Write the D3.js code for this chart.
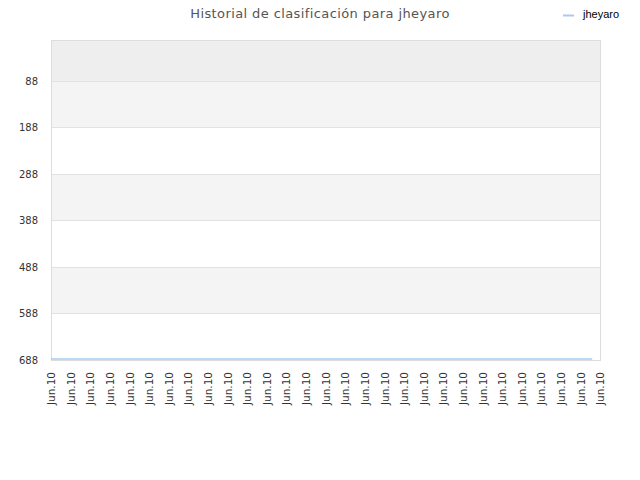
<!DOCTYPE html>
<html>
<head>
<meta charset="utf-8">
<script src="https://cdn.jsdelivr.net/npm/d3@7"></script>
<style>
  body { margin: 0; background: #fff; }
  .title { font-family: "DejaVu Sans", sans-serif; font-size: 13px; fill: #555; letter-spacing: 0.4px; }
  .ytick text { font-family: "DejaVu Sans", sans-serif; font-size: 10px; fill: #333; }
  .xtick text { font-family: "DejaVu Sans", sans-serif; font-size: 10.5px; fill: #333; }
  .legend { font-family: "Liberation Sans", sans-serif; font-size: 11px; fill: #000; }
</style>
</head>
<body>
<div id="chart"></div>
<script>
// tick labels along the x axis (one per slot)
const tickLabels = [
  "Jun.10", "Jun.10", "Jun.10", "Jun.10", "Jun.10", "Jun.10", "Jun.10", "Jun.10",
  "Jun.10", "Jun.10", "Jun.10", "Jun.10", "Jun.10", "Jun.10", "Jun.10", "Jun.10",
  "Jun.10", "Jun.10", "Jun.10", "Jun.10", "Jun.10", "Jun.10", "Jun.10", "Jun.10",
  "Jun.10", "Jun.10", "Jun.10", "Jun.10", "Jun.10"
];
// sample positions (in slot units) and ranking values for the series
const sampleSlots = [0, 1, 2, 3, 4, 5, 6, 7, 8, 9, 10, 11, 12, 13, 14, 15, 16, 17,
  18, 19, 20, 21, 22, 23, 24, 25, 26, 27, 27.6];
const ranks = [688, 688, 688, 688, 688, 688, 688, 688, 688, 688, 688, 688, 688, 688,
  688, 688, 688, 688, 688, 688, 688, 688, 688, 688, 688, 688, 688, 688, 688];
const yTicks = [88, 188, 288, 388, 488, 588, 688];
const seriesName = "jheyaro";

let w = 640;
let h = 480;
let marginTop = 40;
let marginRight = 40;
let marginBottom = 120;
let marginLeft = 51;

let x = d3
  .scaleLinear()
  .domain([0, tickLabels.length - 1])
  .range([marginLeft, w - marginRight]);

let y = d3
  .scaleLinear()
  .domain([0, 688])
  .range([marginTop, h - marginBottom]);

let svg = d3
  .select("#chart")
  .append("svg")
  .attr("width", w)
  .attr("height", h);

// alternating bands between grid lines
let bandEdges = [0].concat(yTicks);
let bands = d3.pairs(bandEdges);
svg
  .append("g")
  .selectAll("rect")
  .data(bands)
  .enter()
  .append("rect")
  .attr("x", marginLeft)
  .attr("width", w - marginRight - marginLeft)
  .attr("y", function (d) {
    return y(d[0]);
  })
  .attr("height", function (d) {
    return y(d[1]) - y(d[0]);
  })
  .attr("fill", function (d, i) {
    if (i === 0) return "#eeeeee";
    return i % 2 === 1 ? "#f4f4f4" : "#ffffff";
  });

// horizontal grid lines
svg
  .append("g")
  .selectAll("line")
  .data(yTicks)
  .enter()
  .append("line")
  .attr("x1", marginLeft)
  .attr("x2", w - marginRight)
  .attr("y1", function (d) {
    return Math.round(y(d)) + 0.5;
  })
  .attr("y2", function (d) {
    return Math.round(y(d)) + 0.5;
  })
  .attr("stroke", "#e2e2e2");

// plot frame
svg
  .append("rect")
  .attr("x", marginLeft + 0.5)
  .attr("y", marginTop + 0.5)
  .attr("width", w - marginRight - marginLeft)
  .attr("height", h - marginBottom - marginTop)
  .attr("fill", "none")
  .attr("stroke", "#dddddd");

let yAxis = d3.axisLeft(y).tickValues(yTicks).tickSize(0).tickPadding(13);
let gy = svg
  .append("g")
  .attr("class", "ytick")
  .attr("transform", `translate(${marginLeft},0)`)
  .call(yAxis);
gy.select(".domain").remove();

let xAxis = d3
  .axisBottom(x)
  .tickValues(d3.range(tickLabels.length))
  .tickFormat(function (i) {
    return tickLabels[i];
  })
  .tickSize(0);
let gx = svg
  .append("g")
  .attr("class", "xtick")
  .attr("transform", `translate(0,${h - marginBottom})`)
  .call(xAxis);
gx.select(".domain").remove();
gx.selectAll("text")
  .attr("text-anchor", "end")
  .attr("transform", "rotate(-90)")
  .attr("x", -12)
  .attr("y", 0)
  .attr("dy", "0.35em");

// series line
let line = d3
  .line()
  .x(function (d, i) {
    return x(sampleSlots[i]);
  })
  .y(function (d) {
    return y(d);
  });

svg
  .append("path")
  .datum(ranks)
  .attr("d", line)
  .attr("fill", "none")
  .attr("stroke", "#a6cbee")
  .attr("stroke-width", 1.5)
  .attr("transform", "translate(0,-1)");

svg
  .append("text")
  .attr("class", "title")
  .attr("text-anchor", "middle")
  .attr("x", w / 2)
  .attr("y", 18)
  .text("Historial de clasificación para " + seriesName);

// legend
svg
  .append("line")
  .attr("x1", 563)
  .attr("x2", 574)
  .attr("y1", 15.5)
  .attr("y2", 15.5)
  .attr("stroke", "#a6cbee")
  .attr("stroke-width", 2);

svg
  .append("text")
  .attr("class", "legend")
  .attr("x", 583)
  .attr("y", 18)
  .text(seriesName);
</script>
</body>
</html>
